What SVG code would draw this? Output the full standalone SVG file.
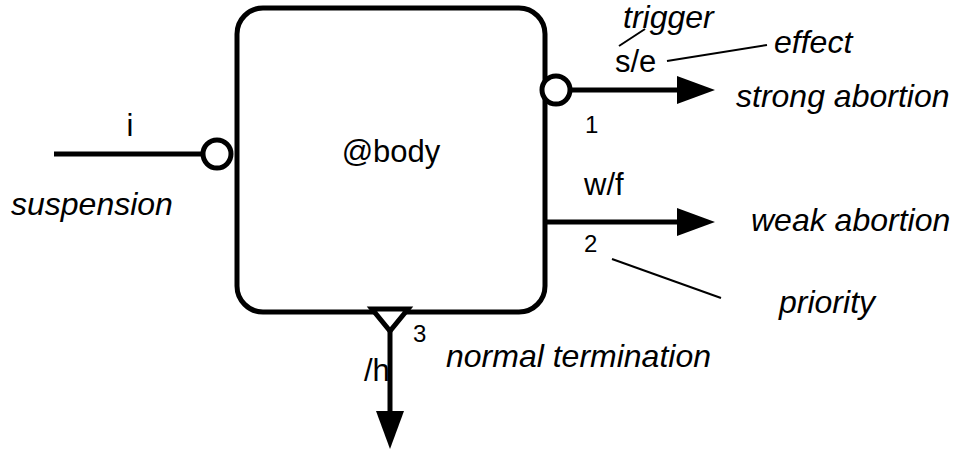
<svg xmlns="http://www.w3.org/2000/svg" width="956" height="451" viewBox="0 0 956 451">
<style>
text{font-family:"Liberation Sans",Arial,sans-serif;fill:#000}
.l{font-size:31px}
.it{font-size:32px;font-style:italic}
.n{font-size:24px}
.w{stroke:#000;stroke-width:5;fill:none}
.thin{stroke:#000;stroke-width:2;fill:none}
</style>
<defs>
<marker id="ah" markerWidth="40" markerHeight="30" refX="1" refY="14" markerUnits="userSpaceOnUse" orient="auto"><path d="M0,0 L38,14 L0,28 Z" fill="#000"/></marker>
</defs>
<rect width="956" height="451" fill="#fff"/>
<g id="body">
<rect x="237" y="8" width="308" height="304" rx="26" ry="26" class="w"/>
<text x="391" y="162" class="l" text-anchor="middle">@body</text>
</g>
<g id="connectors">
<line x1="54" y1="154" x2="203" y2="154" class="w"/>
<line x1="571" y1="90" x2="678" y2="90" class="w" marker-end="url(#ah)"/>
<line x1="545" y1="222" x2="678" y2="222" class="w" marker-end="url(#ah)"/>
<line x1="390" y1="330" x2="390" y2="412" class="w" marker-end="url(#ah)"/>
<line x1="612" y1="259" x2="721" y2="298" class="thin"/>
<line x1="619" y1="46" x2="645" y2="29" class="thin"/>
<line x1="667" y1="61" x2="767" y2="45" class="thin"/>
</g>
<g id="port-i">
<circle cx="217" cy="154" r="14" class="w" style="fill:#fff"/>
<text x="130" y="136" class="l" text-anchor="middle">i</text>
<text x="11" y="215" class="it">suspension</text>
</g>
<g id="port-1">
<circle cx="556" cy="90" r="14" class="w" style="fill:#fff"/>
<text x="585" y="133" class="n">1</text>
<text x="615" y="72" class="l">s/e</text>
<text x="623" y="28" class="it">trigger</text>
<text x="774" y="53" class="it">effect</text>
<text x="736" y="107" class="it">strong abortion</text>
</g>
<g id="port-2">
<text x="584" y="195" class="l">w/f</text>
<text x="584" y="252" class="n">2</text>
<text x="751" y="231" class="it">weak abortion</text>
<text x="779" y="313" class="it">priority</text>
</g>
<g id="port-3">
<path d="M372,309 L408,309 L390,331 Z" class="w" style="fill:#fff;stroke-linejoin:miter"/>
<text x="413" y="342" class="n">3</text>
<text x="364" y="381" class="l">/h</text>
<text x="446" y="367" class="it">normal termination</text>
</g>
</svg>
